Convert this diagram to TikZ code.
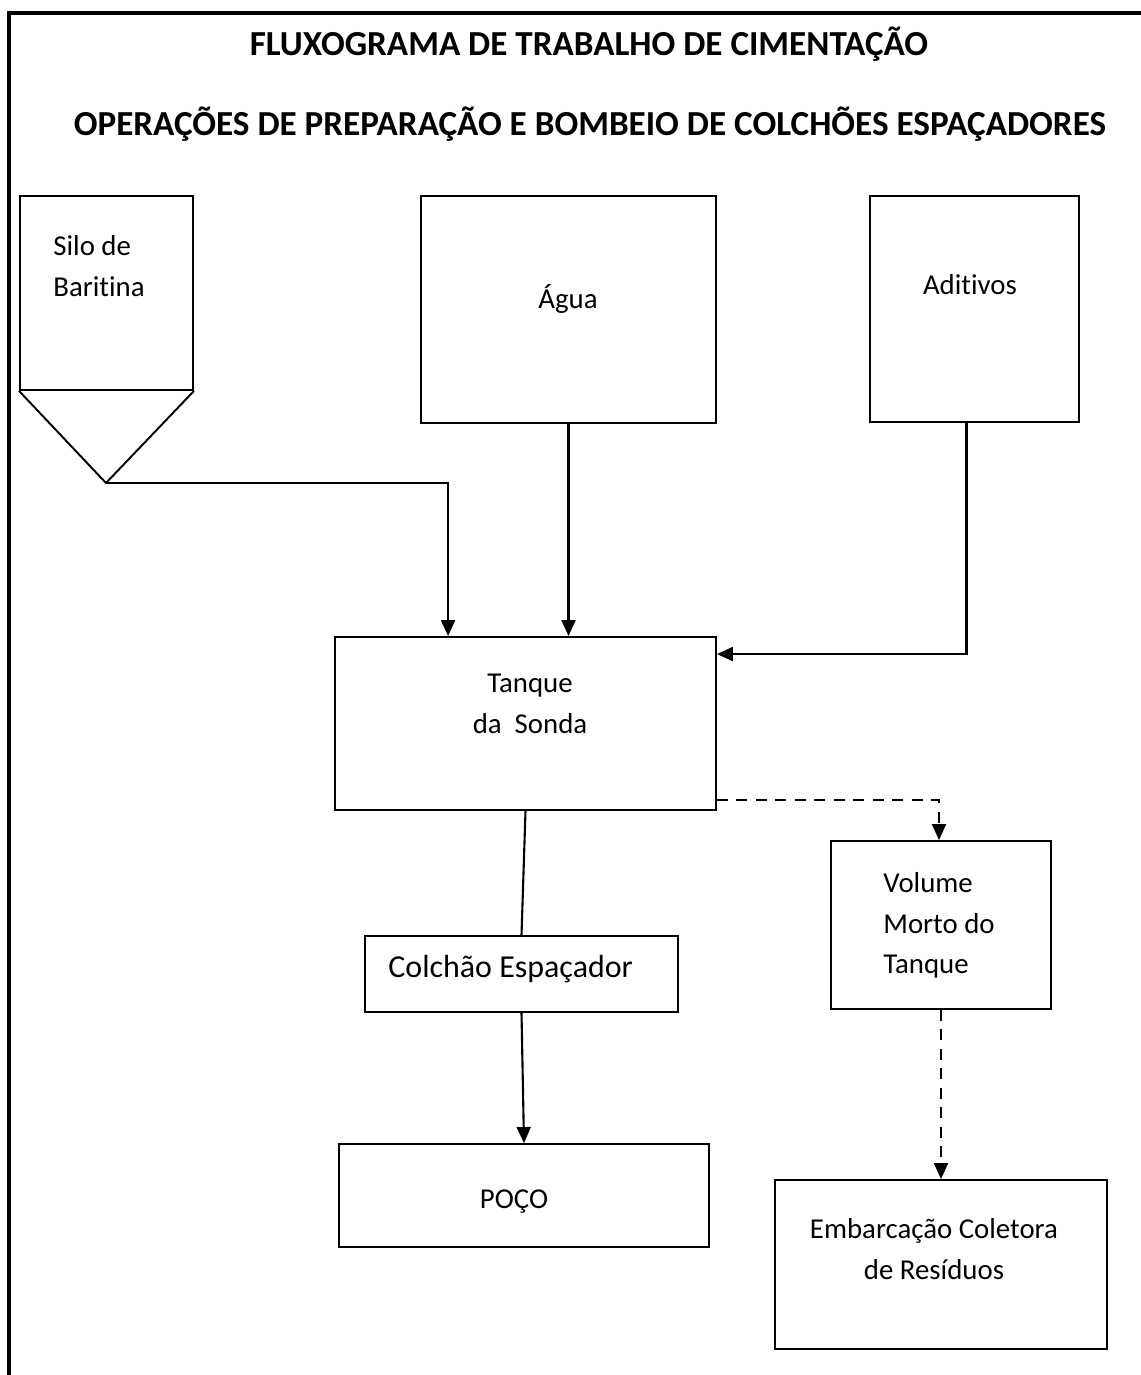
\documentclass[tikz,border=0pt]{standalone}
\usepackage{fontspec}
\setmainfont{Carlito}[Ligatures=NoCommon]
\usepackage{tikz}
\usetikzlibrary{arrows.meta,calc}

\tikzset{
  box/.style={draw, line width=1.1pt, inner sep=0pt},
  txt/.style={inner sep=0pt, font=\fontsize{16.4}{23.2}\selectfont},
  flow/.style={line width=1.2pt, -{Triangle[length=0.32cm,width=0.28cm]}},
  dashflow/.style={flow, dash pattern=on 0.22cm off 0.17cm},
}

\begin{document}
\begin{tikzpicture}[x=0.02cm,y=-0.02cm]
    \useasboundingbox (0,0) rectangle (1141,1375);
    % frame
    \draw[line width=2.2pt] (1141,13) -- (9,13) -- (9,1375);

    % titles
    \node[inner sep=0pt, font=\bfseries\fontsize{20}{24}\selectfont, anchor=base] (titulo) at (589,56) {FLUXOGRAMA DE TRABALHO DE CIMENTAÇÃO};
    \node[inner sep=0pt, font=\bfseries\fontsize{20}{24}\selectfont, anchor=base] (subtitulo) at (590,136) {OPERAÇÕES DE PREPARAÇÃO E BOMBEIO DE COLCHÕES ESPAÇADORES};

    % boxes
    \node[box, minimum width=3.46cm, minimum height=3.88cm] (silo) at (106.5,293) {};
    \draw[line width=1.1pt] (silo.south west) -- (106,483) coordinate (silotip) -- (silo.south east);
    \node[box, minimum width=5.9cm, minimum height=4.54cm] (agua) at (568.5,309.5) {};
    \node[box, minimum width=4.18cm, minimum height=4.52cm] (adit) at (974.5,309) {};
    \node[box, minimum width=7.62cm, minimum height=3.46cm] (tanque) at (525.5,723.5) {};
    \node[box, minimum width=6.26cm, minimum height=1.52cm] (colchao) at (521.5,974) {};
    \node[box, minimum width=7.4cm, minimum height=2.06cm] (poco) at (524,1195.5) {};
    \node[box, minimum width=4.4cm, minimum height=3.36cm] (volume) at (941,925) {};
    \node[box, minimum width=6.64cm, minimum height=3.38cm] (embarc) at (941,1264.5) {};

    % texts
    \node[txt, anchor=north west, align=left] (silo-txt) at (53,235) {Silo de\\Baritina};
    \node[txt, anchor=base] (agua-txt) at (568,308) {Água};
    \node[txt, anchor=base] (adit-txt) at (970,294) {Aditivos};
    \node[txt, anchor=north, align=center] (tanque-txt) at (530,674) {Tanque\\da~~Sonda};
    \node[inner sep=0pt, font=\fontsize{18.2}{22}\selectfont, anchor=base west] (colchao-txt) at (388,977) {Colchão Espaçador};
    \node[txt, anchor=base] (poco-txt) at (514,1208) {POÇO};
    \node[txt, anchor=north west, align=left] (volume-txt) at (883,872) {Volume\\Morto do\\Tanque};
    \node[txt, anchor=north, align=center] (embarc-txt) at (934,1218) {Embarcação Coletora\\de Resíduos};

    % connectors
    \draw[flow] (silotip) -| ($(tanque.north west)+(114,0)$);
    \draw[flow] (agua.south) -- (agua.south |- tanque.north);
    \draw[flow] ($(adit.south)+(-8,0)$) |- ($(tanque.north east)+(0,18)$);
    \draw[line width=1.2pt] (tanque.south) -- (colchao.north);
    \draw[flow] (colchao.south) -- (poco.north);
    \draw[dashflow] ($(tanque.south east)+(0,-11)$) -| ($(volume.north)+(-2,0)$);
    \draw[dashflow] (volume.south) -- (embarc.north);
\end{tikzpicture}
\end{document}
